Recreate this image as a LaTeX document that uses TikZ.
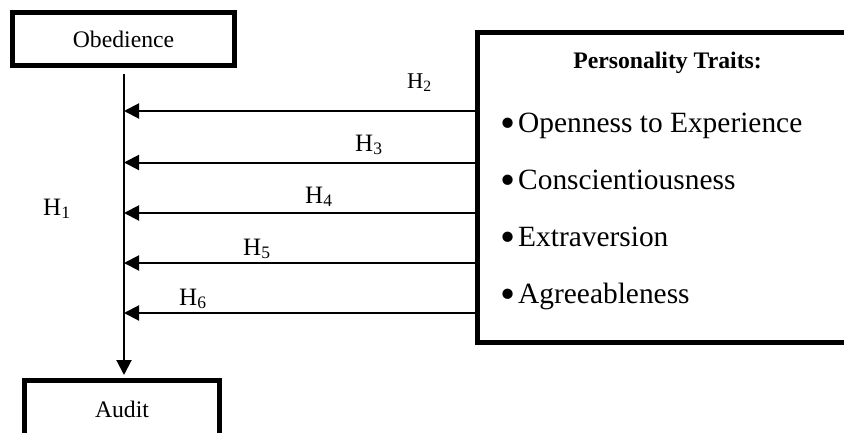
\documentclass[tikz,border=0pt]{standalone}
\usepackage{fontspec}
\setmainfont{Liberation Serif}
\usetikzlibrary{arrows.meta}
\newcommand{\bigbul}{\makebox[16pt][l]{\raisebox{-5.5pt}{\fontsize{43}{43}\selectfont\hspace{-2pt}•}}}
\begin{document}
\begin{tikzpicture}[x=1pt,y=-1pt,
  thickbox/.style={draw=black,line width=5pt,inner sep=0pt,fill=white},
  boxfont/.style={font=\fontsize{23.7}{28}\selectfont},
  bigfont/.style={font=\fontsize{29.4}{34}\selectfont},
  hfont/.style={font=\fontsize{25}{30}\selectfont},
  txt/.style={inner sep=0pt,anchor=base west},
  arr/.style={line width=2pt,-{Triangle[length=15pt,width=15pt]}}]
\useasboundingbox (0,0) rectangle (844,432);
\clip (0,0) rectangle (844,432);
\fill[white] (0,0) rectangle (844,432);
% boxes
\node[thickbox,boxfont,minimum width=222pt,minimum height=53pt] (obed) at (123.5,39) {Obedience};
\node[thickbox,boxfont,minimum width=195pt,minimum height=58pt] (audit) at (122,409.5) {Audit};
\node[thickbox,minimum width=383pt,minimum height=310pt] (pers) at (669,187.5) {};
% box contents
\node[txt,boxfont,anchor=base] (title) at (667.5,68) {\textbf{Personality Traits:}};
\node[txt,bigfont] (t1) at (502,132) {\bigbul Openness to Experience};
\node[txt,bigfont] (t2) at (502,189) {\bigbul Conscientiousness};
\node[txt,bigfont] (t3) at (502,246) {\bigbul Extraversion};
\node[txt,bigfont] (t4) at (502,303) {\bigbul Agreeableness};
% vertical connector
\coordinate (vtop) at (124,74);
\coordinate (vbot) at (124,375);
\draw[arr] (vtop) -- (vbot);
% horizontal connectors
\coordinate (v2) at (124,111);
\coordinate (v3) at (124,162.5);
\coordinate (v4) at (124,213);
\coordinate (v5) at (124,263);
\coordinate (v6) at (124,313);
\foreach \k in {2,...,6}{
  \draw[arr] (v\k -| pers.west) -- (v\k);
}
% labels
\node[txt,hfont] (h1) at (43,215) {H\textsubscript{1}};
\node[txt,font=\fontsize{22.5}{27}\selectfont] (h2) at (407,88) {H\textsubscript{2}};
\node[txt,hfont] (h3) at (355,151) {H\textsubscript{3}};
\node[txt,hfont] (h4) at (305,203) {H\textsubscript{4}};
\node[txt,hfont] (h5) at (243,255) {H\textsubscript{5}};
\node[txt,hfont] (h6) at (179,305) {H\textsubscript{6}};
\end{tikzpicture}
\end{document}
